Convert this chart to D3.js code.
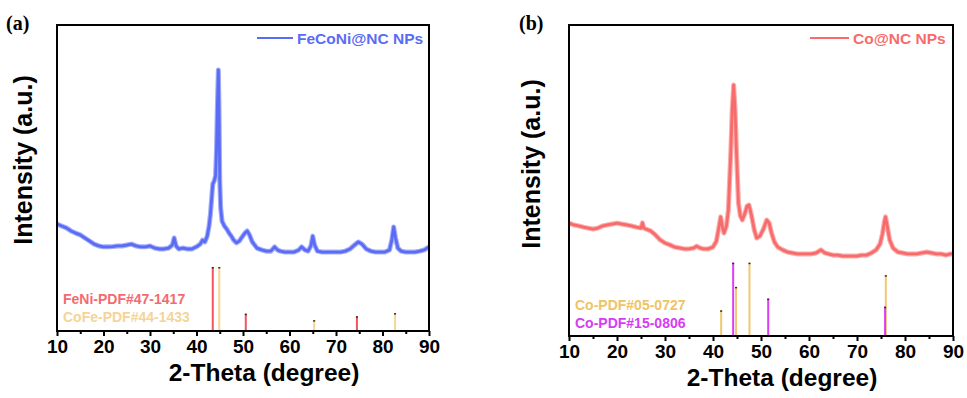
<!DOCTYPE html>
<html>
<head>
<meta charset="utf-8">
<script src="https://cdn.jsdelivr.net/npm/d3@7"></script>
<style>
  body { margin: 0; background: #fff; }
  text { font-family: "Liberation Sans", Arial, sans-serif; font-weight: bold; }
</style>
</head>
<body>
<script>
// panel (a) FeCoNi@NC
var thetaA = [10,11,12,13,14,15,16,17,18,19,20,21,22,23,24,25,26,27,28,29,30,31,32,33,34,34.8,35.2,35.6,36.2,37,38,39,40,40.8,41.3,41.8,42.3,42.7,43,43.3,43.5,43.8,44.1,44.3,44.5,44.7,44.85,45,45.2,45.5,46,46.5,47,47.5,48,48.6,49.2,49.8,50.4,50.9,51.4,52,53,54,55,56,56.8,57.4,58,59,60,61,62,62.6,63.3,64,64.6,65,65.4,66,67,68,69,70,71,72,73,74,74.8,75.6,76.5,77.5,78.5,79.5,80.5,81.5,82,82.4,82.8,83.3,84,85,86,87,88,89,90];
var intensityA = [35,34.3,33.7,32.7,32,31.4,30.4,29.4,28.4,27.8,27.5,27.5,27.6,27.8,27.8,28.1,28.4,27.8,27.5,27.5,27.8,27.1,26.8,26.8,27.1,28.1,30.4,27.8,26.8,27.1,26.8,26.8,27.5,28.4,29.7,29.1,31,34.3,38.2,44.1,48,49,50.7,59.2,73.9,85.3,72.2,49.3,40.2,35.9,34.3,33.3,32,31,29.7,28.8,29.4,30.7,32,32.7,31.4,29.1,27.1,26.5,26.1,26.1,27.5,26.5,26.1,25.8,25.8,25.8,26.5,27.5,26.5,26.1,27.8,31,28.1,26.1,25.8,25.8,25.8,25.8,25.8,26.1,26.8,28.1,29.1,28.4,26.8,26.1,25.8,25.8,25.8,26.5,29.7,34,30.4,27.1,26.1,25.8,25.8,25.8,26.1,26.5,27.5];
var feniPeaks = [43.5, 50.6, 74.5];
var feniHeights = [100, 27, 23];
var cofePeaks = [44.9, 65.3, 82.7];
var cofeHeights = [100, 17, 28];

// panel (b) Co@NC
var thetaB = [10,11,12,13,14,15,16,17,18,19,20,21,22,23,24,25,25.3,25.6,26,27,28,29,30,31,32,33,34,35,36,36.6,37.3,38,39,40,40.7,41.2,41.6,42,42.3,42.8,43.2,43.7,44,44.3,44.6,44.9,45.3,45.7,46.1,46.6,47.1,47.5,48,48.6,49.1,49.8,50.5,51.2,51.7,52.2,52.8,53.5,54.5,55.5,56.5,57.5,58.5,59.5,60.5,61.5,62.5,63.3,64,65,66,67,68,69,70,71,72,73,74,74.8,75.3,75.7,75.95,76.3,76.8,77.5,78.5,79.5,80.5,81.5,82.5,83.5,84.5,85.5,86.5,87.5,88.5,89.5,90];
var intensityB = [36.3,35.7,35.4,35,34.7,34.4,34.7,35.4,35.7,36,36.3,36,35.7,35.4,35,34.7,36.4,34.7,34.4,33.8,32.5,30.9,29.9,29.3,28.6,28.3,28,28,28.3,28.9,28.3,28,28,28.6,30.5,34.7,38.3,34.7,33.1,35.4,40.5,58.8,72.7,80.7,72.7,58.8,42.8,38.6,37.3,39.2,41.8,42.1,38.9,34.1,31.5,32.2,34.4,37.3,36.3,33.1,30.2,28.6,27.7,27,26.7,26.4,26.4,26.4,26.4,26.7,27.7,26.7,26.4,26,26,25.7,25.7,25.7,25.7,26,26,26.7,27.7,29.6,32.8,36.7,38.3,35.4,30.9,28.3,27,26.7,26.4,26.4,26.4,26.7,27,26.7,26.4,26.4,26,26.4,26.4];
var hcpPeaks = [41.7, 44.8, 47.6, 76.0];
var hcpHeights = [35, 67, 100, 83];
var fccPeaks = [44.2, 51.5, 75.85];
var fccHeights = [100, 51, 40];

var majorTicks = [10, 20, 30, 40, 50, 60, 70, 80, 90];
var minorTicks = [15, 25, 35, 45, 55, 65, 75, 85];

var width = 967, height = 398;

var svg = d3.select("body").append("svg")
  .attr("width", width)
  .attr("height", height)
  .style("background", "#fff");

function drawPanel(p) {
  var g = svg.append("g");

  var x = d3.scaleLinear().domain([10, 90]).range([p.left, p.right]);
  var y = d3.scaleLinear().domain([0, 100]).range([p.bottom, p.top]);
  var ys = d3.scaleLinear().domain([0, 100]).range([p.bottom, p.stickTop]);

  // sticks (reference patterns)
  p.sticks.forEach(function(s) {
    var pts = d3.zip(s.pos, s.h);
    g.selectAll(null).data(pts).enter().append("line")
      .attr("x1", function(d) { return x(d[0]) })
      .attr("x2", function(d) { return x(d[0]) })
      .attr("y1", p.bottom)
      .attr("y2", function(d) { return ys(d[1]) })
      .attr("stroke", s.color)
      .attr("stroke-width", 2)
      .attr("opacity", s.opacity || 1);
    g.selectAll(null).data(pts).enter().append("rect")
      .attr("x", function(d) { return x(d[0]) - 1 })
      .attr("y", function(d) { return ys(d[1]) })
      .attr("width", 2)
      .attr("height", 1.5)
      .attr("fill", "#3a2a1a");
  });

  // curve: a soft wide band under a solid line, like the noisy scan
  var line = d3.line()
    .x(function(d) { return x(d[0]) })
    .y(function(d) { return y(d[1]) });
  var pts = d3.zip(p.theta, p.intensity);

  g.append("path")
    .datum(pts)
    .attr("d", line)
    .attr("fill", "none")
    .attr("stroke", p.color)
    .attr("stroke-opacity", 0.55)
    .attr("stroke-width", 5)
    .attr("stroke-linejoin", "round");

  g.append("path")
    .datum(pts)
    .attr("d", line)
    .attr("fill", "none")
    .attr("stroke", p.color)
    .attr("stroke-width", 2.8)
    .attr("stroke-linejoin", "round");

  // frame
  g.append("rect")
    .attr("x", p.left)
    .attr("y", p.top)
    .attr("width", p.right - p.left)
    .attr("height", p.bottom - p.top)
    .attr("fill", "none")
    .attr("stroke", "#000")
    .attr("stroke-width", 2);

  // bottom axis
  var ax = g.append("g")
    .attr("transform", "translate(0," + p.bottom + ")")
    .call(d3.axisBottom(x).tickValues(majorTicks).tickSize(5).tickPadding(4).tickFormat(d3.format("d")));
  ax.select(".domain").remove();
  ax.selectAll("line").attr("stroke-width", 2);
  ax.selectAll("text").attr("font-size", 19).attr("fill", "#000")
    .style("font-family", '"Liberation Sans", Arial, sans-serif').style("font-weight", "bold");

  var axm = g.append("g")
    .attr("transform", "translate(0," + p.bottom + ")")
    .call(d3.axisBottom(x).tickValues(minorTicks).tickSize(3).tickFormat(""));
  axm.select(".domain").remove();
  axm.selectAll("line").attr("stroke-width", 2);

  // axis titles
  g.append("text")
    .attr("x", p.xTitleX)
    .attr("y", p.xTitleY)
    .attr("text-anchor", "middle")
    .attr("font-size", 24.5)
    .text("2-Theta (degree)");

  g.append("text")
    .attr("transform", "translate(" + p.yTitleX + " " + p.yTitleY + ") rotate(-90)")
    .attr("text-anchor", "middle")
    .attr("font-size", 25)
    .text("Intensity (a.u.)");

  // panel letter
  g.append("text")
    .attr("x", p.letterX)
    .attr("y", 30)
    .attr("font-size", 20)
    .style("font-family", '"Liberation Serif", "Times New Roman", serif')
    .text(p.letter);

  // legend
  g.append("line")
    .attr("x1", p.legX1).attr("x2", p.legX2)
    .attr("y1", 38).attr("y2", 38)
    .attr("stroke", p.color)
    .attr("stroke-width", 2);
  g.append("text")
    .attr("x", p.legX2 + 4)
    .attr("y", 43.5)
    .attr("font-size", 15.5)
    .attr("fill", p.color)
    .text(p.name);

  // stick labels
  p.sticks.forEach(function(s, i) {
    g.append("text")
      .attr("x", p.left + 6)
      .attr("y", p.stickLabelY + i * 18)
      .attr("font-size", 14)
      .attr("fill", s.textColor)
      .text(s.label);
  });
}

drawPanel({
  left: 57, right: 429, top: 25, bottom: 331, stickTop: 267,
  theta: thetaA, intensity: intensityA,
  color: "#5a6cf5", name: "FeCoNi@NC NPs",
  legX1: 257, legX2: 293,
  letter: "(a)", letterX: 6,
  xTitleX: 264, xTitleY: 381,
  yTitleX: 32, yTitleY: 160,
  stickLabelY: 304,
  sticks: [
    { pos: feniPeaks, h: feniHeights, color: "#f2555d", textColor: "#f26b6f", label: "FeNi-PDF#47-1417" },
    { pos: cofePeaks, h: cofeHeights, color: "#f7d694", textColor: "#f5d497", label: "CoFe-PDF#44-1433" }
  ]
});

drawPanel({
  left: 569, right: 953, top: 25, bottom: 336, stickTop: 262.7,
  theta: thetaB, intensity: intensityB,
  color: "#f76b6b", name: "Co@NC NPs",
  legX1: 810, legX2: 849,
  letter: "(b)", letterX: 519,
  xTitleX: 782, xTitleY: 386,
  yTitleX: 540, yTitleY: 164,
  stickLabelY: 310,
  sticks: [
    { pos: fccPeaks, h: fccHeights, color: "#db3ef7", textColor: "#d63cf4", label: "Co-PDF#15-0806" },
    { pos: hcpPeaks, h: hcpHeights, color: "#f0c263", textColor: "#efc466", label: "Co-PDF#05-0727", opacity: 0.9 }
  ].reverse()
});
</script>
</body>
</html>
